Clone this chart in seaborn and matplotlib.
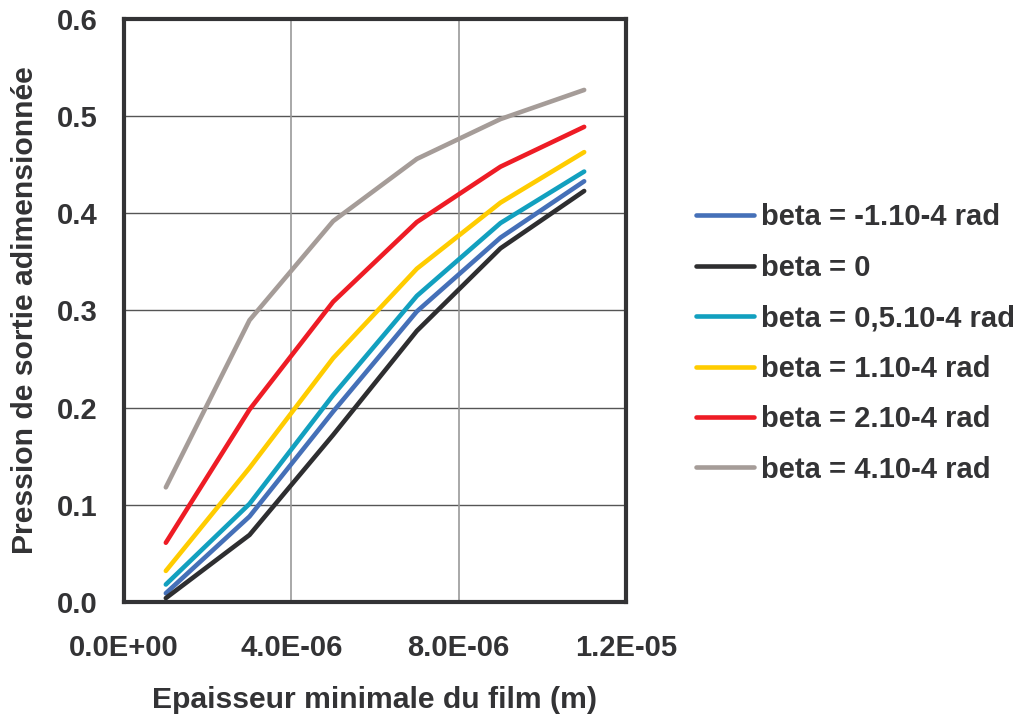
import numpy as np
import pandas as pd
import matplotlib
matplotlib.use("Agg")
import matplotlib.pyplot as plt
from matplotlib.ticker import FuncFormatter, MultipleLocator
import seaborn as sns

# ---- data ----
thickness = [1e-6, 3e-6, 5e-6, 7e-6, 9e-6, 1.1e-5]
series_names = [
    "beta = -1.10-4 rad",
    "beta = 0",
    "beta = 0,5.10-4 rad",
    "beta = 1.10-4 rad",
    "beta = 2.10-4 rad",
    "beta = 4.10-4 rad",
]
beta_m1 = [0.009, 0.088, 0.196, 0.299, 0.375, 0.433]
beta_0 = [0.004, 0.069, 0.172, 0.279, 0.364, 0.423]
beta_05 = [0.018, 0.101, 0.213, 0.315, 0.390, 0.443]
beta_1 = [0.032, 0.138, 0.251, 0.343, 0.411, 0.463]
beta_2 = [0.061, 0.198, 0.309, 0.391, 0.448, 0.489]
beta_4 = [0.118, 0.290, 0.392, 0.456, 0.497, 0.527]
colors = ["#4570b8", "#2e2e30", "#12a0bf", "#ffcc00", "#ee1c25", "#a59c98"]

values = [beta_m1, beta_0, beta_05, beta_1, beta_2, beta_4]
df = pd.DataFrame({
    "x": np.tile(thickness, len(series_names)),
    "y": np.concatenate(values),
    "serie": np.repeat(series_names, len(thickness)),
})

sns.set_theme(style="white")
plt.rcParams["font.family"] = ["Liberation Sans", "DejaVu Sans"]
plt.rcParams["font.weight"] = "bold"
text_color = "#333335"
fs = 21

W, H = 1019, 717
fig = plt.figure(figsize=(W / 100, H / 100), dpi=100)
ax = fig.add_axes([124 / W, (H - 602) / H, (626 - 124) / W, (602 - 19) / H])

sns.lineplot(data=df, x="x", y="y", hue="serie", hue_order=series_names,
             palette=colors, linewidth=3.3, ax=ax, legend=True,
             solid_capstyle="round", sort=False)

ax.set_xlim(0, 1.2e-5)
ax.set_ylim(0, 0.6)
ax.xaxis.set_major_locator(MultipleLocator(4e-6))
ax.yaxis.set_major_locator(MultipleLocator(0.1))
ax.xaxis.set_major_formatter(FuncFormatter(lambda v, p: "%.1E" % v))
ax.yaxis.set_major_formatter(FuncFormatter(lambda v, p: "%.1f" % v))

ax.grid(False)
for yv in np.arange(0.1, 0.6, 0.1):
    ax.axhline(yv, color="#555555", lw=1.0, zorder=0)
for xv in [4e-6, 8e-6]:
    ax.axvline(xv, color="#999999", lw=1.2, zorder=0)

for s in ax.spines.values():
    s.set_visible(True)
    s.set_color(text_color)
    s.set_linewidth(3.0)

ax.tick_params(axis="both", which="major", direction="out", length=6,
               width=1.0, color="#888888", labelsize=fs, labelcolor=text_color)
ax.tick_params(axis="y", pad=13)
ax.tick_params(axis="x", pad=17)
ax.set_xlabel("Epaisseur minimale du film (m)", fontsize=21.7, fontweight="bold",
              color=text_color, labelpad=17)
ax.set_ylabel("Pression de sortie adimensionnée", fontsize=21.7, fontweight="bold",
              color=text_color, labelpad=13)

handles, labels = ax.get_legend_handles_labels()
ax.get_legend().remove()
leg = fig.legend(handles, labels, loc="center left",
                 bbox_to_anchor=(696 / W, (H - 343.5) / H),
                 frameon=False, fontsize=fs, handlelength=1.98,
                 handletextpad=0.25, labelspacing=0.77, borderpad=0,
                 borderaxespad=0)
for t in leg.get_texts():
    t.set_color(text_color)
    t.set_fontweight("bold")
for lh in leg.get_lines():
    lh.set_linewidth(3.3)

fig.savefig("out.png", dpi=100)
